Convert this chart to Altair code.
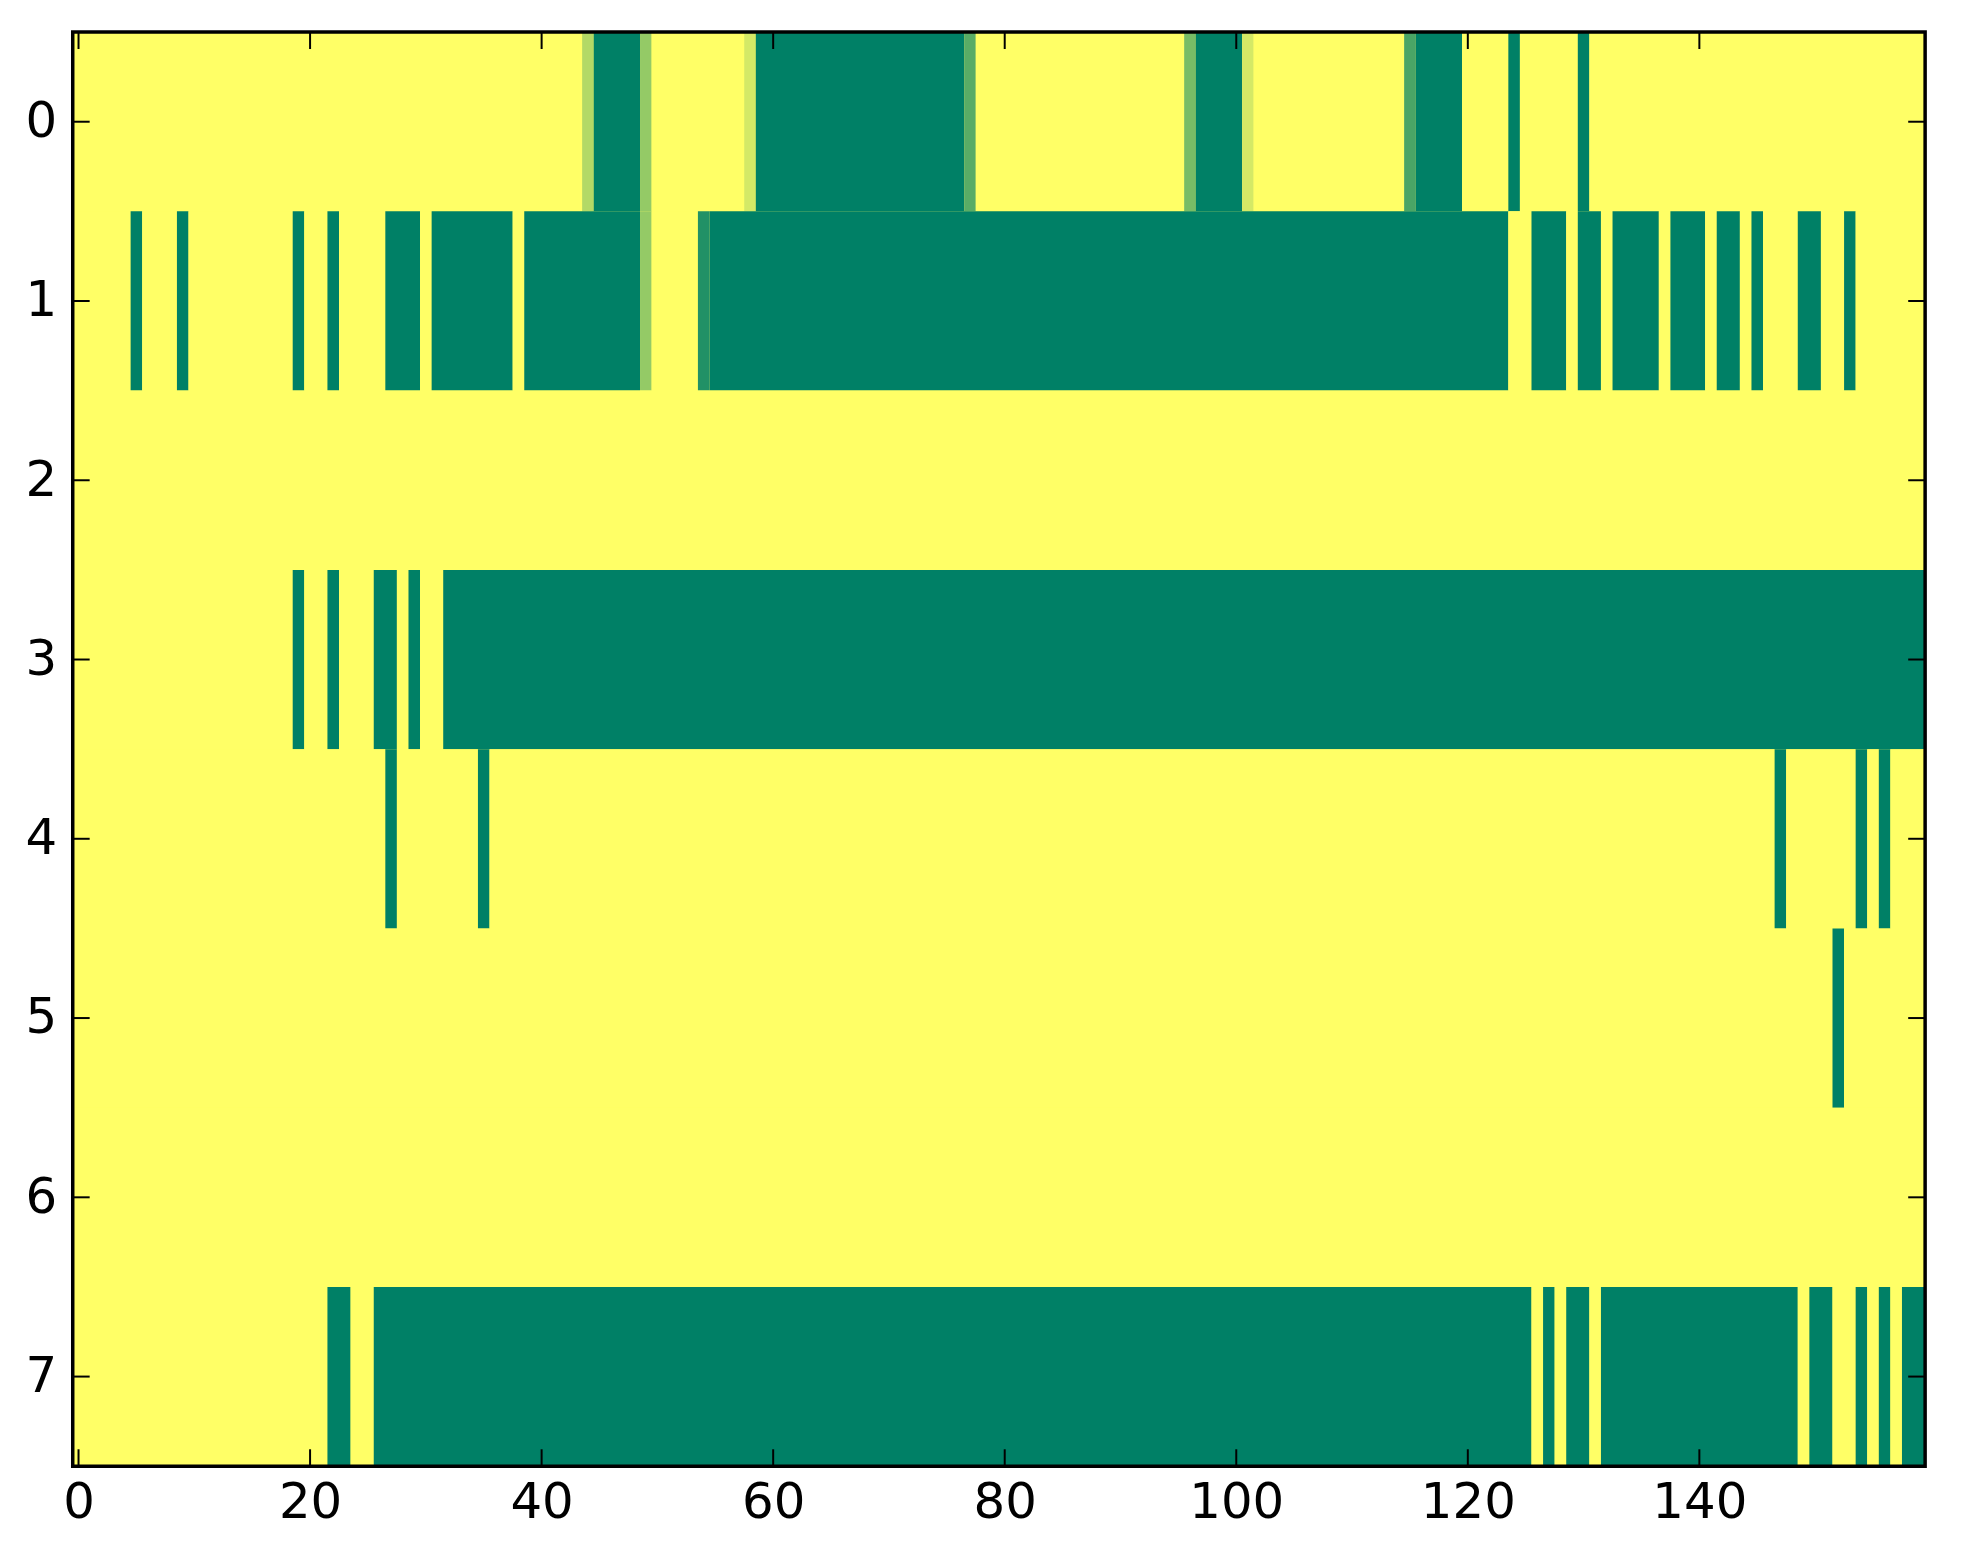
import altair as alt
import pandas as pd

N_COLS = 160
N_ROWS = 8

# green (low) runs per row, inclusive column ranges; everything else is yellow (1.0)
ROW0_GREEN = [(45, 48), (59, 76), (97, 100), (116, 119), (124, 124), (130, 130)]
ROW1_GREEN = [(5, 5), (9, 9), (19, 19), (22, 22), (27, 29), (31, 37), (39, 48),
              (55, 123), (126, 128), (130, 131), (133, 136), (138, 140),
              (142, 143), (145, 145), (149, 150), (153, 153)]
ROW2_GREEN = []
ROW3_GREEN = [(19, 19), (22, 22), (26, 27), (29, 29), (32, 159)]
ROW4_GREEN = [(27, 27), (35, 35), (147, 147), (154, 154), (156, 156)]
ROW5_GREEN = [(152, 152)]
ROW6_GREEN = []
ROW7_GREEN = [(22, 23), (26, 125), (127, 127), (129, 130), (132, 148),
              (150, 151), (154, 154), (156, 156), (158, 159)]

# in-between cells: {column: value}
ROW0_PARTIAL = {44: 0.7, 49: 0.58, 58: 0.83, 77: 0.35, 96: 0.47, 101: 0.83, 115: 0.29}
ROW1_PARTIAL = {49: 0.58, 54: 0.13}

X_TICKS = [0, 20, 40, 60, 80, 100, 120, 140]
Y_TICKS = [0, 1, 2, 3, 4, 5, 6, 7]

GREEN_RUNS = [ROW0_GREEN, ROW1_GREEN, ROW2_GREEN, ROW3_GREEN,
              ROW4_GREEN, ROW5_GREEN, ROW6_GREEN, ROW7_GREEN]
PARTIALS = {0: ROW0_PARTIAL, 1: ROW1_PARTIAL}

W, H = 1860, 1440
FONT = "DejaVu Sans"
YELLOW = "#ffff66"
GREEN = "#008066"


def build_cells():
    """One rect per run of equal values, so no seams show between cells."""
    records = []
    for r in range(N_ROWS):
        vals = [1.0] * N_COLS
        for a, b in GREEN_RUNS[r]:
            for c in range(a, b + 1):
                vals[c] = 0.0
        for c, v in PARTIALS.get(r, {}).items():
            vals[c] = v
        start = 0
        for c in range(1, N_COLS + 1):
            if c == N_COLS or vals[c] != vals[start]:
                records.append({"x0": start - 0.5, "x1": c - 0.5,
                                "y0": r - 0.5, "y1": r + 0.5, "v": vals[start]})
                start = c
    return pd.DataFrame(records)


x_scale = alt.Scale(domain=[-0.5, N_COLS - 0.5], nice=False, zero=False)
y_scale = alt.Scale(domain=[-0.5, N_ROWS - 0.5], nice=False, zero=False, reverse=True)
c_scale = alt.Scale(domain=[0, 1], range=[GREEN, YELLOW], interpolate="rgb")

x_axis = alt.Axis(values=X_TICKS, ticks=False, tickSize=0, domain=False,
                  grid=False, labelFont=FONT, labelFontSize=50,
                  labelColor="black", labelPadding=12, labelFlush=False,
                  title=None)
y_axis = alt.Axis(values=Y_TICKS, ticks=False, tickSize=0, domain=False,
                  grid=False, labelFont=FONT, labelFontSize=50,
                  labelColor="black", labelPadding=16, labelFlush=False,
                  title=None)

cells = alt.Chart(build_cells()).mark_rect(strokeWidth=0).encode(
    x=alt.X("x0:Q", scale=x_scale, axis=x_axis),
    x2="x1:Q",
    y=alt.Y("y0:Q", scale=y_scale, axis=y_axis),
    y2="y1:Q",
    color=alt.Color("v:Q", scale=c_scale, legend=None),
)

xt = pd.DataFrame({"t": X_TICKS})
yt = pd.DataFrame({"t": Y_TICKS})
tick_len = 17

x_ticks_bottom = alt.Chart(xt).mark_rule(color="black", strokeWidth=2).encode(
    x=alt.X("t:Q", scale=x_scale, axis=x_axis),
    y=alt.value(H), y2=alt.value(H - tick_len),
)
x_ticks_top = alt.Chart(xt).mark_rule(color="black", strokeWidth=2).encode(
    x=alt.X("t:Q", scale=x_scale, axis=x_axis),
    y=alt.value(0), y2=alt.value(tick_len),
)
y_ticks_left = alt.Chart(yt).mark_rule(color="black", strokeWidth=2).encode(
    y=alt.Y("t:Q", scale=y_scale, axis=y_axis),
    x=alt.value(0), x2=alt.value(tick_len),
)
y_ticks_right = alt.Chart(yt).mark_rule(color="black", strokeWidth=2).encode(
    y=alt.Y("t:Q", scale=y_scale, axis=y_axis),
    x=alt.value(W), x2=alt.value(W - tick_len),
)
frame = alt.Chart(xt.head(1)).mark_rect(
    fillOpacity=0, stroke="black", strokeWidth=3.5
).encode(
    x=alt.value(0), x2=alt.value(W), y=alt.value(0), y2=alt.value(H),
)

chart = alt.layer(
    cells, x_ticks_bottom, x_ticks_top, y_ticks_left, y_ticks_right, frame
).properties(
    width=W,
    height=H,
    padding={"left": 65, "top": 21, "right": 30, "bottom": 95},
    autosize=alt.AutoSizeParams(type="none"),
    background="white",
).configure_view(stroke=None, fill=YELLOW)

chart.save("out.html", embed_options={"renderer": "svg", "actions": False})
